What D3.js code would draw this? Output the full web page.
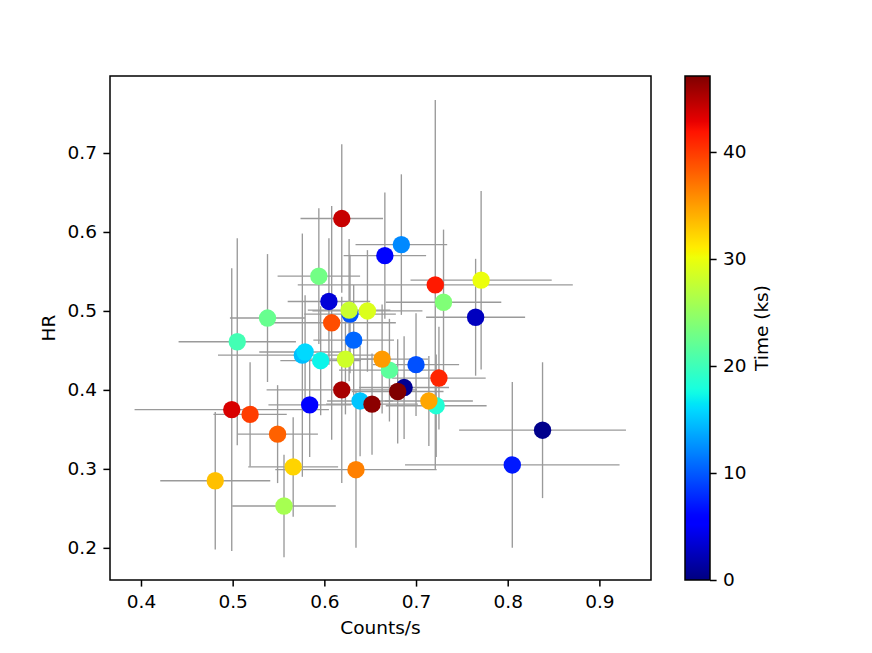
<!DOCTYPE html>
<html>
<head>
<meta charset="utf-8">
<script src="https://cdn.jsdelivr.net/npm/d3@7"></script>
<style>
  html, body { margin: 0; padding: 0; background: #fff; }
  svg { display: block; }
  text { font-family: "DejaVu Sans", sans-serif; fill: #000; }
</style>
</head>
<body>
<svg id="chart" width="872" height="653"></svg>
<script>
// ---- data ----
const countRate = [0.619, 0.684, 0.666, 0.721, 0.771, 0.594, 0.605, 0.730, 0.628, 0.627,
                   0.647, 0.538, 0.765, 0.608, 0.505, 0.632, 0.576, 0.579, 0.596, 0.623,
                   0.663, 0.671, 0.700, 0.725, 0.619, 0.687, 0.680, 0.499, 0.519, 0.584,
                   0.639, 0.652, 0.714, 0.722, 0.549, 0.838, 0.566, 0.6345, 0.805, 0.481, 0.556];
const hardness  = [0.617, 0.584, 0.570, 0.533, 0.539, 0.544, 0.512, 0.511, 0.496, 0.501,
                   0.500, 0.491, 0.492, 0.485, 0.461, 0.463, 0.444, 0.448, 0.437, 0.439,
                   0.439, 0.425, 0.432, 0.415, 0.400, 0.403, 0.398, 0.375, 0.369, 0.381,
                   0.386, 0.382, 0.386, 0.380, 0.344, 0.349, 0.3025, 0.299, 0.305, 0.285, 0.253];
const rateErr   = [0.045, 0.050, 0.045, 0.150, 0.077, 0.045, 0.045, 0.063, 0.050, 0.045,
                   0.060, 0.041, 0.054, 0.070, 0.064, 0.044, 0.092, 0.050, 0.044, 0.050,
                   0.050, 0.055, 0.047, 0.051, 0.082, 0.049, 0.050, 0.106, 0.040, 0.045,
                   0.036, 0.050, 0.048, 0.055, 0.044, 0.091, 0.049, 0.088, 0.117, 0.060, 0.0565];
const hrErr     = [0.094, 0.089, 0.080, 0.234, 0.113, 0.086, 0.080, 0.092, 0.075, 0.090,
                   0.077, 0.081, 0.074, 0.148, 0.131, 0.070, 0.154, 0.072, 0.069, 0.070,
                   0.069, 0.065, 0.065, 0.065, 0.118, 0.065, 0.066, 0.179, 0.066, 0.066,
                   0.070, 0.064, 0.057, 0.065, 0.062, 0.086, 0.063, 0.099, 0.105, 0.087, 0.065];
const timeKs    = [44.2, 12.2, 6.0, 41.6, 30.0, 23.0, 3.6, 23.8, 9.8, 28.0,
                   29.0, 22.4, 2.6, 39.0, 20.3, 10.6, 14.7, 15.9, 17.2, 28.3,
                   35.2, 21.7, 9.6, 41.0, 45.5, 0.8, 47.1, 43.5, 39.8, 5.5,
                   15.0, 46.6, 34.6, 18.4, 38.0, 0.5, 32.3, 36.5, 7.0, 33.3, 26.0];
const xTicks = [0.4, 0.5, 0.6, 0.7, 0.8, 0.9];
const yTicks = [0.2, 0.3, 0.4, 0.5, 0.6, 0.7];
const cTicks = [0, 10, 20, 30, 40];
const tMax = 47.1;

// ---- jet colormap (matplotlib segment data) ----
function seg(pts, f) {
  for (let i = 1; i < pts.length; i++) {
    if (f <= pts[i][0]) {
      const [x0, y0] = pts[i - 1], [x1, y1] = pts[i];
      return y0 + (y1 - y0) * (f - x0) / (x1 - x0);
    }
  }
  return pts[pts.length - 1][1];
}
const jR = [[0, 0], [0.35, 0], [0.66, 1], [0.89, 1], [1, 0.5]];
const jG = [[0, 0], [0.125, 0], [0.375, 1], [0.64, 1], [0.91, 0], [1, 0]];
const jB = [[0, 0.5], [0.11, 1], [0.34, 1], [0.65, 0], [1, 0]];
function jet(f) {
  f = Math.max(0, Math.min(1, f));
  return d3.rgb(255 * seg(jR, f), 255 * seg(jG, f), 255 * seg(jB, f)).formatHex();
}

// ---- layout ----
const svg = d3.select("#chart");
const L = 110, R = 651, T = 76, B = 580;
const fs = 18.5;
const tickLen = 6.6;
const lw = 1.5;

const x = d3.scaleLinear().domain([0.3662, 0.9563]).range([L, R]);
const y = d3.scaleLinear().domain([0.1593, 0.7975]).range([B, T]);
const color = d3.scaleSequential(jet).domain([0, tMax]);

const data = countRate.map((v, i) => ({
  x: v, y: hardness[i], xe: rateErr[i], ye: hrErr[i], t: timeKs[i]
}));

const defs = svg.append("defs");
defs.append("clipPath").attr("id", "plotclip")
  .append("rect").attr("x", L).attr("y", T).attr("width", R - L).attr("height", B - T);

const plot = svg.append("g").attr("clip-path", "url(#plotclip)");

// error bars
const eb = plot.append("g").attr("stroke", "#9a9a9a").attr("stroke-width", 1.35);
data.forEach(d => {
  eb.append("line").attr("x1", x(d.x - d.xe)).attr("x2", x(d.x + d.xe))
    .attr("y1", y(d.y)).attr("y2", y(d.y));
  eb.append("line").attr("x1", x(d.x)).attr("x2", x(d.x))
    .attr("y1", y(d.y - d.ye)).attr("y2", y(d.y + d.ye));
});

// points (later times drawn on top)
const sorted = data.slice().sort((a, b) => a.t - b.t);
plot.append("g").selectAll("circle").data(sorted).join("circle")
  .attr("cx", d => x(d.x)).attr("cy", d => y(d.y)).attr("r", 8.7)
  .attr("fill", d => color(d.t));

// axes
const xAxis = d3.axisBottom(x).tickValues(xTicks).tickFormat(d3.format(".1f"))
  .tickSize(tickLen).tickPadding(8);
const yAxis = d3.axisLeft(y).tickValues(yTicks).tickFormat(d3.format(".1f"))
  .tickSize(tickLen).tickPadding(6.5);

const gx = svg.append("g").attr("transform", `translate(0,${B})`).call(xAxis);
const gy = svg.append("g").attr("transform", `translate(${L},0)`).call(yAxis);
[gx, gy].forEach(g => {
  g.select(".domain").remove();
  g.selectAll(".tick line").attr("stroke", "#000").attr("stroke-width", lw);
  g.selectAll(".tick text").attr("font-size", fs).attr("font-family", "DejaVu Sans");
});

svg.append("rect").attr("x", L).attr("y", T).attr("width", R - L).attr("height", B - T)
  .attr("fill", "none").attr("stroke", "#000").attr("stroke-width", lw);

svg.append("text").attr("x", (L + R) / 2).attr("y", 634).attr("text-anchor", "middle")
  .attr("font-size", fs).text("Counts/s");
svg.append("text").attr("transform", `translate(55,${(T + B) / 2}) rotate(-90)`)
  .attr("text-anchor", "middle").attr("font-size", fs).text("HR");

// colorbar
const CL = 685, CR = 710;
const cy = d3.scaleLinear().domain([0, tMax]).range([B, T]);
const grad = defs.append("linearGradient").attr("id", "jetgrad")
  .attr("x1", 0).attr("y1", 1).attr("x2", 0).attr("y2", 0);
d3.range(0, 1.0001, 0.01).forEach(f => {
  grad.append("stop").attr("offset", f).attr("stop-color", jet(f));
});
svg.append("rect").attr("x", CL).attr("y", T).attr("width", CR - CL).attr("height", B - T)
  .attr("fill", "url(#jetgrad)").attr("stroke", "#000").attr("stroke-width", lw);

const cAxis = d3.axisRight(cy).tickValues(cTicks).tickFormat(d3.format("d"))
  .tickSize(tickLen).tickPadding(6.5);
const gc = svg.append("g").attr("transform", `translate(${CR},0)`).call(cAxis);
gc.select(".domain").remove();
gc.selectAll(".tick line").attr("stroke", "#000").attr("stroke-width", lw);
gc.selectAll(".tick text").attr("font-size", fs).attr("font-family", "DejaVu Sans");

svg.append("text").attr("transform", `translate(768,${(T + B) / 2}) rotate(-90)`)
  .attr("text-anchor", "middle").attr("font-size", fs).text("Time (ks)");
</script>
</body>
</html>
